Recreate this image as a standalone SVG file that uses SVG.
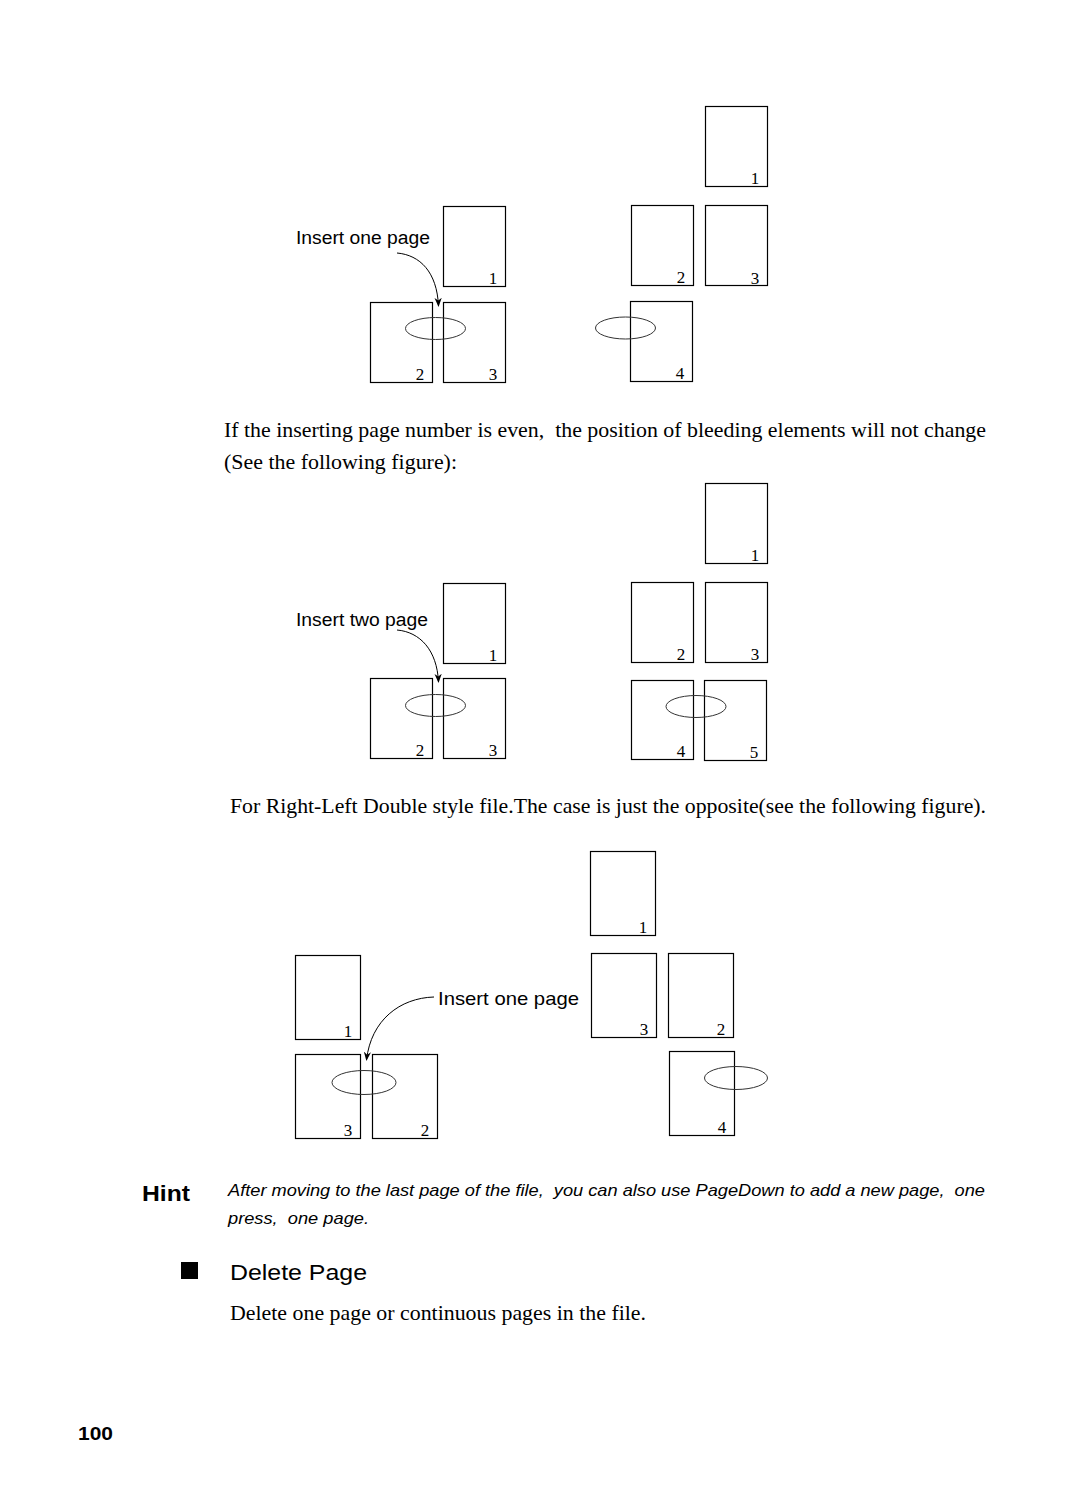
<svg xmlns="http://www.w3.org/2000/svg" width="1073" height="1488" viewBox="0 0 1073 1488">
<style>
text{white-space:pre}
.pg{fill:none;stroke:#000;stroke-width:1.2}
.ell{fill:none;stroke:#333;stroke-width:1}
.num{font-family:"Liberation Serif",serif;font-size:17px;fill:#000;text-anchor:middle}
.lbl{font-family:"Liberation Sans",Arial,sans-serif;fill:#000}
.body{font-family:"Liberation Serif",serif;font-size:21px;fill:#000}
.conn{fill:none;stroke:#000;stroke-width:1}
</style>
<defs>
<marker id="ah" viewBox="0 0 10 10" refX="9" refY="5" markerWidth="9" markerHeight="9" orient="auto" markerUnits="userSpaceOnUse">
<path d="M0,1 L10,5 L0,9 L3,5 Z" fill="#000"/>
</marker>
</defs>
<rect width="1073" height="1488" fill="#fff"/>
<g id="f1-left-p1"><rect class="pg" x="443.5" y="206.5" width="62" height="80"/><text class="num" x="493" y="284">1</text></g>
<g id="f1-left-p2"><rect class="pg" x="370.5" y="302.5" width="62" height="80"/><text class="num" x="420" y="380">2</text></g>
<g id="f1-left-p3"><rect class="pg" x="443.5" y="302.5" width="62" height="80"/><text class="num" x="493" y="380">3</text></g>
<g id="f1-left-bleed"><ellipse class="ell" cx="435.5" cy="328.5" rx="30" ry="11"/></g>
<g id="f1-label"><text class="lbl" x="296" y="244" font-size="18" textLength="134" lengthAdjust="spacingAndGlyphs">Insert one page</text></g>
<g id="f1-right-p1"><rect class="pg" x="705.5" y="106.5" width="62" height="80"/><text class="num" x="755" y="184">1</text></g>
<g id="f1-right-p2"><rect class="pg" x="631.5" y="205.5" width="62" height="80"/><text class="num" x="681" y="283">2</text></g>
<g id="f1-right-p3"><rect class="pg" x="705.5" y="205.5" width="62" height="80"/><text class="num" x="755" y="284">3</text></g>
<g id="f1-right-p4"><rect class="pg" x="630.5" y="301.5" width="62" height="80"/><text class="num" x="680" y="379">4</text></g>
<g id="f1-right-bleed"><ellipse class="ell" cx="625.5" cy="328" rx="30" ry="11"/></g>
<text class="body" x="224" y="437" textLength="762" lengthAdjust="spacingAndGlyphs">If the inserting page number is even,  the position of bleeding elements will not change</text>
<text class="body" x="224" y="469" textLength="233" lengthAdjust="spacingAndGlyphs">(See the following figure):</text>
<g id="f2-left-p1"><rect class="pg" x="443.5" y="583.5" width="62" height="80"/><text class="num" x="493" y="661">1</text></g>
<g id="f2-left-p2"><rect class="pg" x="370.5" y="678.5" width="62" height="80"/><text class="num" x="420" y="756">2</text></g>
<g id="f2-left-p3"><rect class="pg" x="443.5" y="678.5" width="62" height="80"/><text class="num" x="493" y="756">3</text></g>
<g id="f2-left-bleed"><ellipse class="ell" cx="435.5" cy="705.5" rx="30" ry="11"/></g>
<g id="f2-label"><text class="lbl" x="296" y="626" font-size="18" textLength="132" lengthAdjust="spacingAndGlyphs">Insert two page</text></g>
<g id="f2-right-p1"><rect class="pg" x="705.5" y="483.5" width="62" height="80"/><text class="num" x="755" y="561">1</text></g>
<g id="f2-right-p2"><rect class="pg" x="631.5" y="582.5" width="62" height="80"/><text class="num" x="681" y="660">2</text></g>
<g id="f2-right-p3"><rect class="pg" x="705.5" y="582.5" width="62" height="80"/><text class="num" x="755" y="660">3</text></g>
<g id="f2-right-p4"><rect class="pg" x="631.5" y="680.5" width="62" height="79"/><text class="num" x="681" y="757">4</text></g>
<g id="f2-right-p5"><rect class="pg" x="704.5" y="680.5" width="62" height="80"/><text class="num" x="754" y="758">5</text></g>
<g id="f2-right-bleed"><ellipse class="ell" cx="696" cy="706.5" rx="30" ry="11"/></g>
<text class="body" x="230" y="813" textLength="756" lengthAdjust="spacingAndGlyphs">For Right-Left Double style file.The case is just the opposite(see the following figure).</text>
<g id="f3-left-p1"><rect class="pg" x="295.5" y="955.5" width="65" height="84"/><text class="num" x="348" y="1037">1</text></g>
<g id="f3-left-p3"><rect class="pg" x="295.5" y="1054.5" width="65" height="84"/><text class="num" x="348" y="1136">3</text></g>
<g id="f3-left-p2"><rect class="pg" x="372.5" y="1054.5" width="65" height="84"/><text class="num" x="425" y="1136">2</text></g>
<g id="f3-left-bleed"><ellipse class="ell" cx="364" cy="1082.5" rx="32" ry="12"/></g>
<g id="f3-label"><text class="lbl" x="438" y="1005" font-size="19" textLength="141" lengthAdjust="spacingAndGlyphs">Insert one page</text></g>
<g id="f3-right-p1"><rect class="pg" x="590.5" y="851.5" width="65" height="84"/><text class="num" x="643" y="933">1</text></g>
<g id="f3-right-p3"><rect class="pg" x="591.5" y="953.5" width="65" height="84"/><text class="num" x="644" y="1035">3</text></g>
<g id="f3-right-p2"><rect class="pg" x="668.5" y="953.5" width="65" height="84"/><text class="num" x="721" y="1035">2</text></g>
<g id="f3-right-p4"><rect class="pg" x="669.5" y="1051.5" width="65" height="84"/><text class="num" x="722" y="1133">4</text></g>
<g id="f3-right-bleed"><ellipse class="ell" cx="736" cy="1078" rx="31.5" ry="11.5"/></g>
<g id="connectors">
<path class="conn" d="M397,253 C420,255 437,272 438.5,306" marker-end="url(#ah)"/>
<path class="conn" d="M397,630 C420,632 437,650 438.5,682" marker-end="url(#ah)"/>
<path class="conn" d="M434,997 C400,998 371,1020 366.5,1060" marker-end="url(#ah)"/>
</g>
<text class="lbl" x="142" y="1201" font-size="22" font-weight="bold" textLength="48" lengthAdjust="spacingAndGlyphs">Hint</text>
<text class="lbl" x="228" y="1196" font-size="17" font-style="italic" textLength="757" lengthAdjust="spacingAndGlyphs">After moving to the last page of the file,  you can also use PageDown to add a new page,  one</text>
<text class="lbl" x="228" y="1224" font-size="17" font-style="italic" textLength="141" lengthAdjust="spacingAndGlyphs">press,  one page.</text>
<rect x="181" y="1262" width="17" height="17" fill="#000"/>
<text class="lbl" x="230" y="1280" font-size="22" textLength="137" lengthAdjust="spacingAndGlyphs">Delete Page</text>
<text class="body" x="230" y="1320" textLength="416" lengthAdjust="spacingAndGlyphs">Delete one page or continuous pages in the file.</text>
<text class="lbl" x="78" y="1440" font-size="19" font-weight="bold" textLength="35" lengthAdjust="spacingAndGlyphs">100</text>
</svg>
